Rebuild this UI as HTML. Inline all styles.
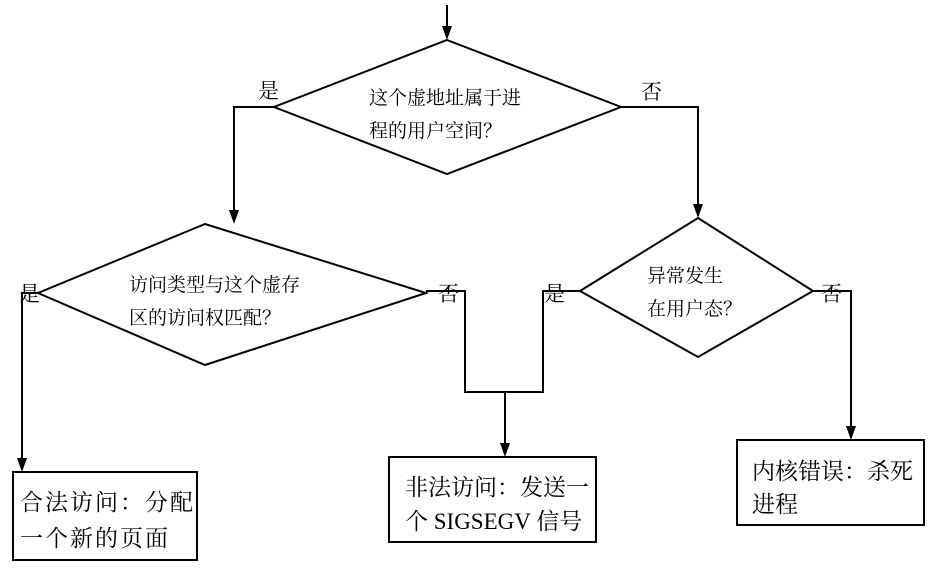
<!DOCTYPE html>
<html><head><meta charset="utf-8"><style>
html,body{margin:0;padding:0;background:#fff;}
svg text{font-family:"Liberation Serif","Noto Serif CJK SC","Noto Sans CJK SC",serif;fill:#000;}
</style></head><body>
<svg width="934" height="565" viewBox="0 0 934 565" xmlns="http://www.w3.org/2000/svg">
<g stroke="#000" stroke-width="2" fill="none">
<line x1="447" y1="5" x2="447" y2="28"/>
<polygon points="447,40 621,107 447,174 274,107" fill="#fff"/>
<polyline points="274,107 234,107 234,212"/>
<polyline points="621,107 698,107 698,206"/>
<polygon points="205,224 426,293 205,365 38,293" fill="#fff"/>
<polygon points="698,218 813,291 698,357 580,291" fill="#fff"/>
<polyline points="38,293 22,293 22,460"/>
<polyline points="426,291 465,291 465,392 543,392 543,291 580,291"/>
<polyline points="505,392 505,445"/>
<polyline points="813,291 851,291 851,428"/>
<rect x="13" y="472" width="184" height="88" fill="#fff"/>
<rect x="389" y="457" width="207" height="85" fill="#fff"/>
<rect x="737" y="440" width="187" height="85" fill="#fff"/>
</g>
<g fill="#000">
<path d="M442,26 L452,26 L447,40 Z"/>
<path d="M229,210 L239,210 L234,224 Z"/>
<path d="M693,204 L703,204 L698,218 Z"/>
<path d="M17,458 L27,458 L22,472 Z"/>
<path d="M500,443 L510,443 L505,457 Z"/>
<path d="M846,426 L856,426 L851,440 Z"/>
</g>
<g font-size="19">
<text x="369" y="104">这个虚地址属于进</text>
<text x="369" y="137">程的用户空间？</text>
<text x="258" y="98" font-size="21">是</text>
<text x="641" y="99" font-size="21">否</text>
<text x="129" y="291">访问类型与这个虚存</text>
<text x="129" y="324">区的访问权匹配？</text>
<text x="19" y="301" font-size="21">是</text>
<text x="438" y="301" font-size="21">否</text>
<text x="544" y="301" font-size="21">是</text>
<text x="821" y="301" font-size="21">否</text>
<text x="647" y="282">异常发生</text>
<text x="647" y="315">在用户态？</text>
</g>
<g font-size="23">
<text x="20" y="510" letter-spacing="2">合法访问：分配</text>
<text x="20" y="546" letter-spacing="2">一个新的页面</text>
<text x="405" y="495">非法访问：发送一</text>
<text x="405" y="529">个 SIGSEGV 信号</text>
<text x="752" y="479">内核错误：杀死</text>
<text x="752" y="512">进程</text>
</g>
</svg>
</body></html>
